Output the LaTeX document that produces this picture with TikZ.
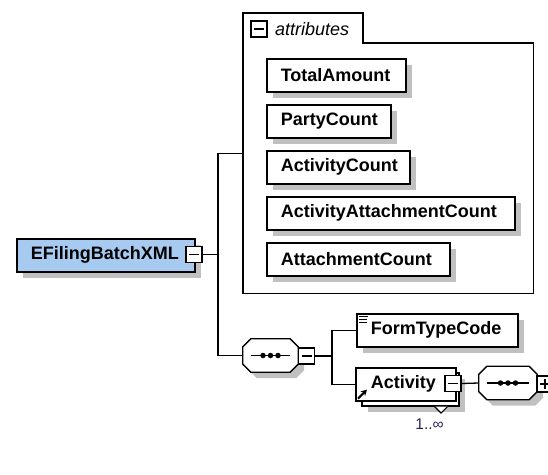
\documentclass[tikz,border=0pt]{standalone}
\usepackage{fontspec}
\setmainfont{Liberation Sans}
\usetikzlibrary{shadows,arrows.meta,calc}
\definecolor{rootblue}{RGB}{166,202,240}
\definecolor{shadowgray}{RGB}{192,192,192}
\definecolor{occcol}{RGB}{48,32,96}
\tikzset{
  shad/.style={drop shadow={shadow xshift=6pt,shadow yshift=-6pt,opacity=1,fill=shadowgray,draw=none}},
  elembase/.style={draw,fill=white,line width=1.6pt,anchor=north west,minimum height=33pt,
    inner xsep=14pt,inner ysep=0pt,align=left,font=\fontsize{18}{20}\selectfont\bfseries},
  elem/.style={elembase,shad},
  conn/.style={line width=1.3pt},
  togglebox/.style={draw,fill=white,line width=1.3pt,minimum size=16pt,inner sep=0pt},
  minusbox/.style={togglebox,path picture={\draw[line width=1.3pt]
     ([xshift=3pt]path picture bounding box.west) -- ([xshift=-3pt]path picture bounding box.east);}},
  plusbox/.style={togglebox,path picture={\draw[line width=1.3pt]
     ([xshift=3pt]path picture bounding box.west) -- ([xshift=-3pt]path picture bounding box.east)
     ([yshift=3pt]path picture bounding box.south) -- ([yshift=-3pt]path picture bounding box.north);}},
  seqanchor/.style={rectangle,inner sep=0pt,minimum height=33pt},
  octo/.style={draw,fill=white,line width=1.3pt,shad},
  dot/.style={fill=black,inner sep=0pt,minimum size=5.5pt,circle},
}
\newcommand{\octagon}[1]{%
  \draw[octo] ($(#1.north west)+(8,0)$) -- ($(#1.north east)+(-8,0)$) -- ($(#1.north east)+(0,8)$)
    -- ($(#1.south east)+(0,-8)$) -- ($(#1.south east)+(-8,0)$) -- ($(#1.south west)+(8,0)$)
    -- ($(#1.south west)+(0,-8)$) -- ($(#1.north west)+(0,8)$) -- cycle;
  \draw[line width=1.3pt] ($(#1.west)+(8,0)$) -- ($(#1.east)+(-8,0)$);
  \node[dot] at ($(#1.center)+(-7.5,0)$) {};
  \node[dot] at ($(#1.center)+(0,0)$) {};
  \node[dot] at ($(#1.center)+(7.5,0)$) {};}
\begin{document}
\begin{tikzpicture}[x=1pt,y=-1pt]
\useasboundingbox (0,0) rectangle (548,474);

% root element
\node[elem,fill=rootblue,text width=150pt] (root) at (16,238) {EFilingBatchXML};
\node[minusbox] (m0) at (194,254.5) {};

% attributes group
\node[minimum width=290pt,minimum height=280pt,anchor=north west,inner sep=0pt] (ag) at (243,13) {};
\draw[line width=1.5pt] (ag.north west) -- ($(ag.north west)+(120,0)$) -- ($(ag.north west)+(120,30)$)
   -- ($(ag.north east)+(0,30)$) -- (ag.south east) -- (ag.south west) -- cycle;
\node[minusbox,line width=1.2pt] (am) at (259,29) {};
\node[anchor=west,inner sep=0pt,font=\fontsize{18}{20}\selectfont\itshape] (atxt) at (275,29) {attributes};

\node[elem,text width=111pt] (a1) at (266,58) {TotalAmount};
\node[elem,text width=96pt] (a2) at (266,104) {PartyCount};
\node[elem,text width=115pt] (a3) at (266,150) {ActivityCount};
\node[elem,text width=220pt] (a4) at (266,196) {ActivityAttachmentCount};
\node[elem,text width=155pt] (a5) at (266,242) {AttachmentCount};

% first sequence
\node[seqanchor,minimum width=55pt] (s1) at (270.5,355.5) {};
\octagon{s1}
\node[minusbox] (m1) at (306.5,356) {};

% children
\node[elem,text width=133pt] (ft) at (356,313) {FormTypeCode};
\draw[line width=1.1pt] ($(ft.north west)+(2.5,3.5)$) -- ++(9,0)
  ($(ft.north west)+(2.5,6.5)$) -- ++(8,0)
  ($(ft.north west)+(2.5,9.5)$) -- ++(8,0);

\node[elem,minimum width=97pt,text width=69pt] (actb) at (361,372) {\phantom{Activity}};
\node[elembase,text width=70pt,inner xsep=15pt] (act) at (355,367) {Activity};
\draw[line width=2pt,-{Stealth[length=6pt,width=6.5pt]}] ($(act.south west)+(3,-3)$) -- ($(act.south west)+(12,-12)$);
\draw[line width=1.1pt,fill=white] ($(actb.south east)+(-25,0)$) -- ($(actb.south east)+(-18.5,6.5)$) -- ($(actb.south east)+(-12,0)$);
\node[font=\fontsize{15.5}{17}\selectfont,text=occcol,inner sep=0pt] (occ) at ($(actb.south east)+(-30,17.5)$) {1..∞};
\node[minusbox] (m2) at (453,383.5) {};

% second sequence
\node[seqanchor,minimum width=58pt] (s2) at (508,383) {};
\octagon{s2}
\node[plusbox] (p3) at (545,384) {};

% connectors
\coordinate (j0) at (218,254.5);
\coordinate (j1) at (332,356);
\draw[conn] (m0.east) -- (j0);
\draw[conn] (j0) |- (ag.west);
\draw[conn] (j0) |- (s1.west);
\draw[conn] (m1.east) -- (j1);
\draw[conn] (j1) |- (ft.west);
\draw[conn] (j1) |- (act.west);
\draw[conn] (m2.east) -- (s2.west);
\end{tikzpicture}
\end{document}
